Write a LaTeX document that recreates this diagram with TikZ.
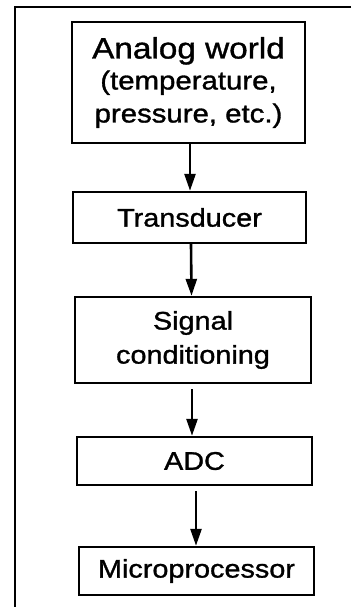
\documentclass[tikz,border=0pt]{standalone}
\usepackage{fontspec}
\setmainfont{Liberation Sans}
\newfontfamily\widefont{Liberation Sans}[FakeStretch=1.13,FakeBold=1.2]
\usetikzlibrary{arrows.meta}
\begin{document}
\begin{tikzpicture}[x=1pt,y=-1pt,
  blockbox/.style={draw,line width=2.4pt,inner sep=0pt,align=center,
    font=\widefont\fontsize{25.5}{34}\selectfont},
  arr/.style={line width=2.6pt,-{Triangle[length=17pt,width=11pt]}},
  frame/.style={line width=2.4pt}]
\useasboundingbox (0,0) rectangle (351,607);
\coordinate (ftl) at (15,7);
\coordinate (ftr) at (351,7);
\coordinate (fbl) at (15,607);
\draw[frame] (ftr) -- (ftl) -- (fbl);
\node[blockbox,minimum width=233pt,minimum height=121pt] (b1) at (188.5,82.5)
  {{\fontsize{29.5}{30}\selectfont Analog world}\\[-3pt]
   {\fontsize{26}{28}\selectfont (temperature,}\\[-1pt]
   {\fontsize{26}{28}\selectfont pressure, etc.)}};
\node[blockbox,minimum width=233pt,minimum height=51pt] (b2) at (189.5,217.5) {Transducer};
\node[blockbox,minimum width=236pt,minimum height=86pt] (b3) at (193,340)
  {Signal\\conditioning};
\node[blockbox,minimum width=235pt,minimum height=48pt] (b4) at (194.5,461) {ADC};
\node[blockbox,minimum width=235pt,minimum height=48pt] (b5) at (196.5,571) {Microprocessor};
\draw[arr] ([xshift=1.5pt]b1.south) -- ([xshift=0.5pt]b2.north);
\draw[arr] ([xshift=1.5pt]b2.south) -- ([xshift=-1.5pt]b3.north);
\draw[arr,shorten <=5pt] ([xshift=-1pt]b3.south) -- ([xshift=-2.5pt]b4.north);
\draw[arr,shorten <=5pt] ([xshift=1.5pt]b4.south) -- ([xshift=-0.5pt]b5.north);
\end{tikzpicture}
\end{document}
